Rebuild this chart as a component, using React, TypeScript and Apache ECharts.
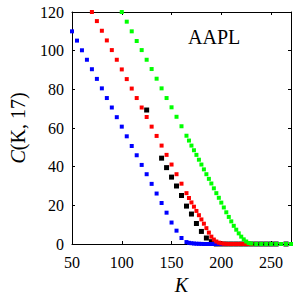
import React, { useEffect, useRef } from "react";
import * as echarts from "echarts";

const FONT = "Liberation Serif, Times New Roman, serif";

const xTicks = { min: 50, max: 270, interval: 50 };
const yTicks = { min: 0, max: 120, interval: 20 };

const kBlue = [50, 55, 60, 65, 70, 75, 80, 85, 90, 95, 100, 105, 110, 115, 120, 125, 130, 135, 140, 145, 150, 155, 160, 165,
  167.5, 170, 172.5, 175, 177.5, 180, 182.5, 185, 187.5, 190, 192.5, 195, 197.5, 200, 202.5, 205];
const cBlue = [110, 105.2, 100.2, 95.3, 90.4, 85.4, 80.5, 75.5, 70.6, 65.6, 60.7, 55.7, 50.7, 45.9, 40.9, 36.1, 31.1, 26.1, 21.2, 16.2, 11.1, 6.9, 3.1, 1.0,
  0.6, 0.4, 0.25, 0.15, 0.1, 0.05, 0, 0, 0, 0, 0, 0, 0, 0, 0, 0];

const kRed = [70, 75, 80, 85, 90, 95, 100, 105, 110, 115, 120, 125, 130, 135, 140, 145, 150, 155, 160, 165,
  167.5, 170, 172.5, 175, 177.5, 180, 182.5, 185, 187.5, 190, 192.5, 195, 197.5, 200, 202.5, 205, 207.5, 210, 212.5, 215, 217.5, 220, 222.5, 225, 227.5, 230];
const cRed = [120, 115.3, 110.3, 105.3, 100.3, 95.3, 90.3, 85.3, 80.4, 75.5, 70.6, 65.7, 60.7, 55.9, 50.9, 46.1, 41.1, 36.1, 31.2, 26.3,
  23.8, 21.5, 19.3, 17.1, 14.9, 12.7, 10.5, 8.2, 5.9, 3.8, 2.3, 1.3, 0.7, 0.35, 0.15, 0.05, 0, 0, 0, 0, 0, 0, 0, 0, 0, 0];

const kGreen = [100, 105, 110, 115, 120, 125, 130, 135, 140, 145, 150, 155, 160, 165,
  167.5, 170, 172.5, 175, 177.5, 180, 182.5, 185, 187.5, 190, 192.5, 195, 197.5, 200, 202.5, 205, 207.5, 210, 212.5, 215, 217.5, 220, 222.5, 225, 227.5, 230,
  235, 240, 245, 250, 255, 260, 265, 270];
const cGreen = [120, 115, 110, 105, 100.3, 95.3, 90.5, 85.5, 80.5, 75.5, 70.7, 65.8, 60.9, 56,
  53.5, 50.9, 48.5, 46.1, 43.6, 41.1, 38.6, 36.1, 33.7, 31.3, 28.8, 26.3, 23.9, 21.4, 18.9, 16.4, 14.0, 11.7, 9.4, 7.4, 5.5, 3.8, 2.4, 1.3, 0.5, 0.2,
  0, 0, 0, 0, 0, 0, 0, 0];

const kBlack = [125, 140, 145, 150, 155, 160, 165, 170, 175, 180, 185, 190, 195, 200, 205, 210, 215, 220, 225, 230, 235, 240, 245, 250, 255, 265];
const cBlack = [69.3, 44.4, 39.5, 34.6, 30.0, 25.1, 19.6, 15.5, 10.6, 6.5, 3.1, 1.2, 0, 0, 0, 0, 0, 0, 0, 0, 0, 0, 0, 0, 0, 0];

const pairs = (k: number[], c: number[]) => k.map((v, i) => [v, c[i]]);

export default function App() {
  const ref = useRef<HTMLDivElement>(null);
  useEffect(() => {
    if (!ref.current) return;
    const chart = echarts.init(ref.current, undefined, { renderer: "svg" });
    const axisLine = { show: true, onZero: false, lineStyle: { color: "#000", width: 1 } };
    const axisTick = { show: true, inside: true, length: 3, lineStyle: { color: "#000", width: 1 } };
    const label = { fontFamily: FONT, fontSize: 16, color: "#000" };
    const sq = (data: number[][], color: string, size: number, z: number) => ({
      type: "scatter",
      data,
      symbol: "rect",
      symbolSize: size,
      itemStyle: { color, opacity: 1 },
      clip: false,
      silent: true,
      z,
    });
    chart.setOption({
      animation: false,
      backgroundColor: "#fff",
      grid: { left: 63, right: 9, top: 12, bottom: 56, containLabel: false },
      xAxis: [
        {
          type: "value", ...xTicks, position: "bottom",
          axisLine, axisTick,
          axisLabel: { ...label, margin: 10, showMaxLabel: false },
          splitLine: { show: false },
          name: "K", nameLocation: "middle", nameGap: 28,
          nameTextStyle: { fontFamily: FONT, fontStyle: "italic", fontSize: 20, color: "#000" },
        },
        {
          type: "value", ...xTicks, position: "top",
          axisLine, axisTick, axisLabel: { show: false }, splitLine: { show: false },
        },
      ],
      yAxis: [
        {
          type: "value", ...yTicks, position: "left",
          axisLine, axisTick,
          axisLabel: { ...label, margin: 8 },
          splitLine: { show: false },
          name: "{i|C}(K, 17)",
          nameLocation: "middle", nameGap: 44, nameRotate: 90,
          nameTextStyle: {
            fontFamily: FONT, fontSize: 20, color: "#000",
            rich: { i: { fontFamily: FONT, fontStyle: "italic", fontSize: 20, color: "#000" } },
          },
        },
        {
          type: "value", ...yTicks, position: "right",
          axisLine, axisTick, axisLabel: { show: false }, splitLine: { show: false },
        },
      ],
      graphic: [
        {
          type: "text", x: 188, y: 37,
          style: { text: "AAPL", font: `20px ${FONT}`, fill: "#000", verticalAlign: "middle", align: "left" },
        },
      ],
      series: [
        sq(pairs(kBlack, cBlack), "#000000", 5, 1),
        sq(pairs(kBlue, cBlue), "#0000ff", 4, 2),
        sq(pairs(kRed, cRed), "#ff0000", 4, 3),
        sq(pairs(kGreen, cGreen), "#00ff00", 4, 4),
      ],
    });
    return () => chart.dispose();
  }, []);
  return <div ref={ref} style={{ position: "fixed", left: 0, top: 0, width: 300, height: 300 }} />;
}
